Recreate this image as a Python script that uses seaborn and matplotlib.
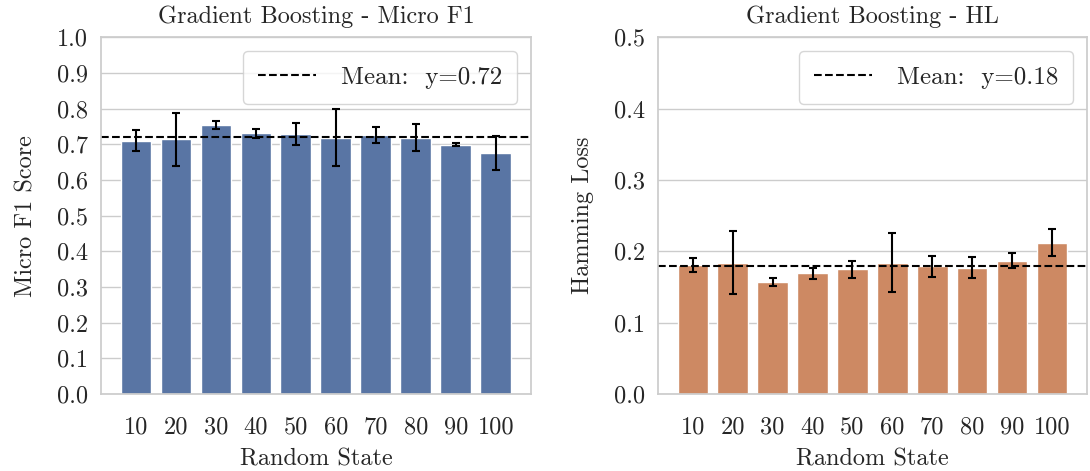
import numpy as np
import pandas as pd
import matplotlib
matplotlib.use('Agg')
import matplotlib.pyplot as plt
import seaborn as sns

random_states = [10, 20, 30, 40, 50, 60, 70, 80, 90, 100]

# Micro F1 per random state (bar height) and error half-width
f1_mean = [0.710, 0.714, 0.754, 0.731, 0.730, 0.718, 0.727, 0.719, 0.699, 0.675]
f1_err = [0.030, 0.075, 0.010, 0.012, 0.031, 0.080, 0.022, 0.038, 0.005, 0.047]

# Hamming loss per random state
hl_mean = [0.181, 0.184, 0.157, 0.169, 0.175, 0.184, 0.179, 0.177, 0.187, 0.212]
hl_err = [0.010, 0.044, 0.006, 0.008, 0.012, 0.041, 0.015, 0.015, 0.010, 0.019]

f1_line = 0.72
hl_line = 0.18

sns.set_theme(style="whitegrid")
plt.rcParams['font.family'] = ['cmr10', 'DejaVu Serif']
plt.rcParams['mathtext.fontset'] = 'cm'
plt.rcParams['axes.formatter.use_mathtext'] = True
plt.rcParams['axes.unicode_minus'] = False

fs = 17.5

fig = plt.figure(figsize=(10.9, 4.71), dpi=100)
ax1 = fig.add_axes([0.0927, 0.1635, 0.3942, 0.7573])
ax2 = fig.add_axes([0.6037, 0.1635, 0.3933, 0.7573])

df1 = pd.DataFrame({'Random State': random_states, 'score': f1_mean})
df2 = pd.DataFrame({'Random State': random_states, 'score': hl_mean})

panels = [
    (ax1, df1, f1_err, '#5975A4', f1_line, 'Gradient Boosting - Micro F1', 'Micro F1 Score', 1.0),
    (ax2, df2, hl_err, '#CD8963', hl_line, 'Gradient Boosting - HL', 'Hamming Loss', 0.5),
]

for ax, df, err, col, line, title, ylab, ymax in panels:
    sns.barplot(data=df, x='Random State', y='score', color=col, saturation=1,
                width=0.77, ax=ax)
    ax.errorbar(np.arange(len(df)), df['score'], yerr=err, fmt='none',
                ecolor='black', elinewidth=1.5, capsize=3, capthick=1.5)
    ax.axhline(line, color='black', linestyle='--', linewidth=1.5,
               label=f'Mean:  y={line:.2f}')
    ax.set_ylim(0, ymax)
    ax.set_yticks(np.arange(0, ymax + 0.001, 0.1))
    ax.set_yticklabels([f'{v:.1f}' for v in np.arange(0, ymax + 0.001, 0.1)])
    ax.set_title(title, fontsize=fs, pad=10)
    ax.set_xlabel('Random State', fontsize=fs, labelpad=7)
    ax.set_ylabel(ylab, fontsize=fs, labelpad=14)
    ax.tick_params(labelsize=fs)
    ax.tick_params(axis='x', pad=10)
    ax.legend(loc='upper right', fontsize=18, handlelength=2.3,
              handletextpad=1.0, borderpad=0.6, borderaxespad=0.55)

fig.savefig('out.png', dpi=100)
